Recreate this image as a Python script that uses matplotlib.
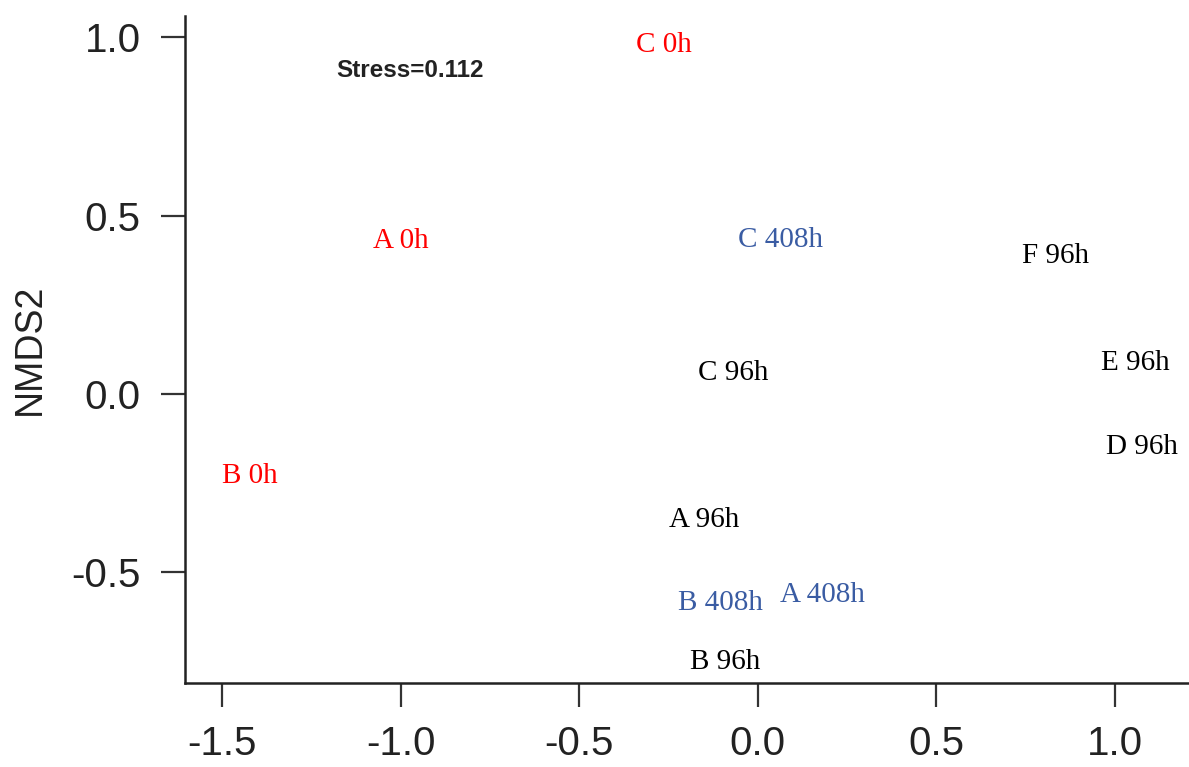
import matplotlib
matplotlib.use("Agg")
import matplotlib.pyplot as plt

# NMDS sample scores
labels = ["C 0h", "A 0h", "B 0h",
          "C 408h", "B 408h", "A 408h",
          "F 96h", "C 96h", "E 96h", "D 96h", "A 96h", "B 96h"]
nmds1 = [-0.263, -1.001, -1.422,
         0.062, -0.106, 0.182,
         0.833, -0.069, 1.057, 1.076, -0.150, -0.092]
nmds2 = [0.978, 0.429, -0.230,
         0.431, -0.585, -0.563,
         0.387, 0.059, 0.087, -0.148, -0.353, -0.751]
groups = ["0h", "0h", "0h",
          "408h", "408h", "408h",
          "96h", "96h", "96h", "96h", "96h", "96h"]
group_colors = {"0h": "#ff0000", "408h": "#3a5ca3", "96h": "black"}
stress = 0.112

fig = plt.figure(figsize=(11.89, 7.67), dpi=100)
ax = fig.add_axes([0.1556, 0.1095, 0.8444, 0.8696])

for lab, x, y, g in zip(labels, nmds1, nmds2, groups):
    ax.text(x, y, lab, color=group_colors[g], family="Liberation Serif",
            fontsize=21, ha="center", va="center")

ax.text(-0.973, 0.905, "Stress=%.3f" % stress, family="Liberation Sans",
        fontweight="bold", fontsize=17.5, ha="center", va="center", color="#222222")

ax.set_xlim(-1.604, 1.207)
ax.set_ylim(-0.81, 1.059)
ax.set_xticks([-1.5, -1.0, -0.5, 0.0, 0.5, 1.0])
ax.set_yticks([-0.5, 0.0, 0.5, 1.0])
ax.set_xticklabels(["-1.5", "-1.0", "-0.5", "0.0", "0.5", "1.0"])
ax.set_yticklabels(["-0.5", "0.0", "0.5", "1.0"])
ax.spines["top"].set_visible(False)
ax.spines["right"].set_visible(False)
for s in ["left", "bottom"]:
    ax.spines[s].set_linewidth(1.8)
    ax.spines[s].set_color("#222222")
ax.tick_params(axis="both", length=17, width=1.6, color="#333333",
               labelsize=29, labelcolor="#222222")
ax.tick_params(axis="y", pad=15)
ax.tick_params(axis="x", pad=13)
for t in ax.get_xticklabels() + ax.get_yticklabels():
    t.set_family("Liberation Sans")
ax.set_ylabel("NMDS2", family="Liberation Sans", fontsize=27, color="#222222", labelpad=17)

fig.savefig("out.png", dpi=100)
